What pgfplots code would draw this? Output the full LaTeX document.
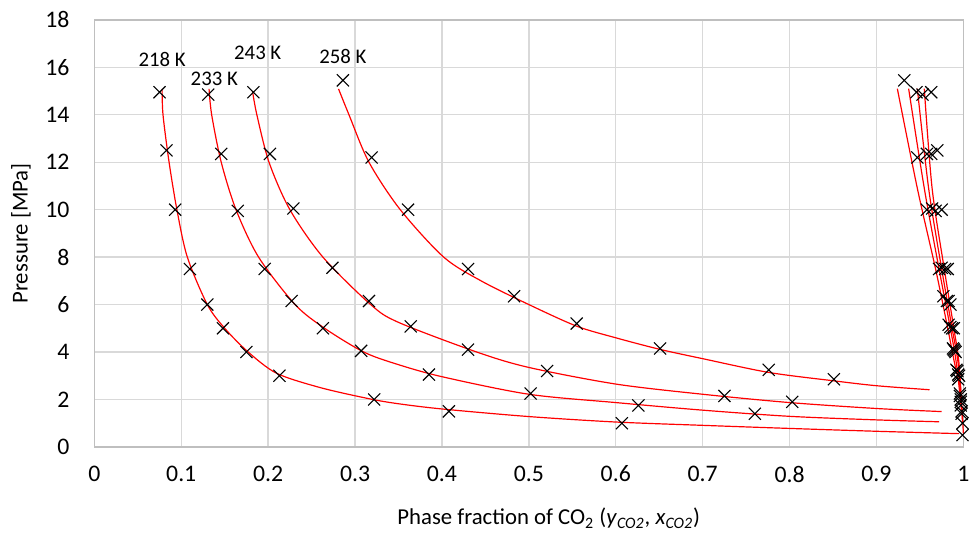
\documentclass[border=0pt]{standalone}
\usepackage{fontspec}
\setmainfont{Carlito}
\usepackage{pgfplots}
\pgfplotsset{compat=1.18}
\definecolor{gridgray}{HTML}{D9D9D9}
\definecolor{axisgray}{HTML}{BFBFBF}
\definecolor{modelred}{HTML}{FF0000}

\begin{document}
\begin{tikzpicture}
\begin{axis}[
  scale only axis, width=437.5bp, height=215bp,
  xmin=0, xmax=1, ymin=0, ymax=18,
  xtick={0,0.1,0.2,0.3,0.4,0.5,0.6,0.7,0.8,0.9,1},
  xticklabels={0,0.1,0.2,0.3,0.4,0.5,0.6,0.7,0.8,0.9,1},
  ytick={0,2,4,6,8,10,12,14,16,18},
  /pgf/number format/assume math mode=true,
  tick label style={font=\fontsize{12}{14}\selectfont},
  xticklabel style={yshift=-6bp},
  yticklabel style={xshift=-9bp},
  major tick length=0pt,
  grid=major, grid style={draw=gridgray, line width=0.7bp},
  axis line style={draw=axisgray, line width=0.7bp},
  clip=false,
  xlabel={Phase fraction of CO\textsubscript{2} (\textit{y}\textsubscript{\textit{CO2}}, \textit{x}\textsubscript{\textit{CO2}})},
  ylabel={Pressure [MPa]},
  label style={font=\fontsize{11.5}{13}\selectfont},
  xlabel style={at={([xshift=10bp,yshift=-36bp]axis description cs:0.5,0)}, anchor=center},
  ylabel style={at={([xshift=-37bp]axis description cs:0,0.5)}, anchor=center},
  model/.style={draw=modelred, line width=0.6bp, smooth, tension=0.5, no markers},
  meas/.style={only marks, mark=x, mark size=4.3bp, mark options={draw=black, line width=0.55bp}},
]
% model curves, vapour side
\addplot[model] coordinates {(0.078,15.09) (0.079,14) (0.086,12) (0.095,10) (0.107,8) (0.130,6) (0.150,5) (0.177,4) (0.210,3.1) (0.260,2.5) (0.315,2.04) (0.348,1.83) (0.400,1.60) (0.500,1.28) (0.600,1.05) (0.700,0.91) (0.800,0.78) (0.900,0.66) (0.995,0.56)};
\addplot[model] coordinates {(0.132,15.09) (0.135,14) (0.146,12) (0.163,10) (0.189,8) (0.231,6) (0.265,5.0) (0.310,4) (0.348,3.49) (0.400,2.96) (0.500,2.22) (0.600,1.87) (0.700,1.55) (0.800,1.29) (0.900,1.14) (0.972,1.06)};
\addplot[model] coordinates {(0.182,15.0) (0.187,14) (0.201,12) (0.225,10) (0.263,8) (0.318,6) (0.350,5.25) (0.440,4.0) (0.500,3.35) (0.600,2.65) (0.700,2.22) (0.800,1.87) (0.900,1.62) (0.975,1.49)};
\addplot[model] coordinates {(0.281,15.09) (0.293,14) (0.316,12) (0.352,10) (0.402,8) (0.445,7.0) (0.500,6.0) (0.555,5.09) (0.600,4.60) (0.651,4.11) (0.700,3.72) (0.776,3.14) (0.850,2.79) (0.900,2.58) (0.961,2.41)};
% model curves, liquid side
\addplot[model] coordinates {(0.924,15.1) (0.947,10.9) (0.968,7.5) (0.982,5.0) (0.990,3.5) (0.997,2.41)};
\addplot[model] coordinates {(0.937,15.1) (0.955,10.9) (0.972,7.5) (0.985,5.0) (0.992,3.5) (0.998,1.49)};
\addplot[model] coordinates {(0.947,15.1) (0.960,10.9) (0.975,7.5) (0.987,5.0) (0.994,3.5) (0.999,1.06)};
\addplot[model] coordinates {(0.955,15.1) (0.964,10.9) (0.978,7.5) (0.989,5.0) (0.995,3.5) (1.000,0.56)};
% measured, vapour side
\addplot[meas] coordinates {(0.075,14.95) (0.083,12.5) (0.093,10.0) (0.110,7.5) (0.130,6.0) (0.148,5.0) (0.175,4.0) (0.213,3.0) (0.322,2.0) (0.408,1.5) (0.607,1.0)};
\addplot[meas] coordinates {(0.131,14.85) (0.146,12.35) (0.165,9.95) (0.196,7.5) (0.227,6.15) (0.263,5.0) (0.307,4.05) (0.385,3.05) (0.502,2.25) (0.626,1.75) (0.760,1.4)};
\addplot[meas] coordinates {(0.183,14.95) (0.202,12.35) (0.229,10.05) (0.274,7.55) (0.316,6.15) (0.364,5.08) (0.430,4.1) (0.521,3.2) (0.725,2.15) (0.803,1.9)};
\addplot[meas] coordinates {(0.286,15.45) (0.319,12.2) (0.361,10.0) (0.430,7.5) (0.483,6.35) (0.555,5.2) (0.651,4.15) (0.776,3.25) (0.851,2.85)};
% measured, liquid side
\addplot[meas] coordinates {(0.932,15.45) (0.947,12.2) (0.958,10.0) (0.972,7.5) (0.977,6.35) (0.983,5.15) (0.988,4.15) (0.992,3.25) (0.994,2.85)};
\addplot[meas] coordinates {(0.946,14.95) (0.958,12.35) (0.964,10.05) (0.975,7.55) (0.981,6.15) (0.985,5.05) (0.989,4.1) (0.993,3.2) (0.996,2.15) (0.997,1.9)};
\addplot[meas] coordinates {(0.953,14.85) (0.963,12.35) (0.968,9.95) (0.979,7.5) (0.983,6.15) (0.987,5.0) (0.990,4.05) (0.994,3.05) (0.996,2.25) (0.997,1.75) (0.998,1.4)};
\addplot[meas] coordinates {(0.963,14.95) (0.970,12.5) (0.975,10.0) (0.982,7.5) (0.985,6.0) (0.989,5.0) (0.991,4.0) (0.995,3.0) (0.997,2.0) (0.998,1.5) (0.999,1.0) (0.999,0.5)};
% isotherm labels
\node[font=\fontsize{10.5}{12}\selectfont] at (axis cs:0.078,16.35) {218 K};
\node[font=\fontsize{10.5}{12}\selectfont] at (axis cs:0.138,15.5) {233 K};
\node[font=\fontsize{10.5}{12}\selectfont] at (axis cs:0.188,16.6) {243 K};
\node[font=\fontsize{10.5}{12}\selectfont] at (axis cs:0.286,16.45) {258 K};
% page frame matching the reference margins
\path (rel axis cs:0,0) ++(-47.5bp,-45bp) coordinate (bl);
\path (rel axis cs:1,1) ++(3bp,10bp) coordinate (tr);
\end{axis}
\end{tikzpicture}
\end{document}
